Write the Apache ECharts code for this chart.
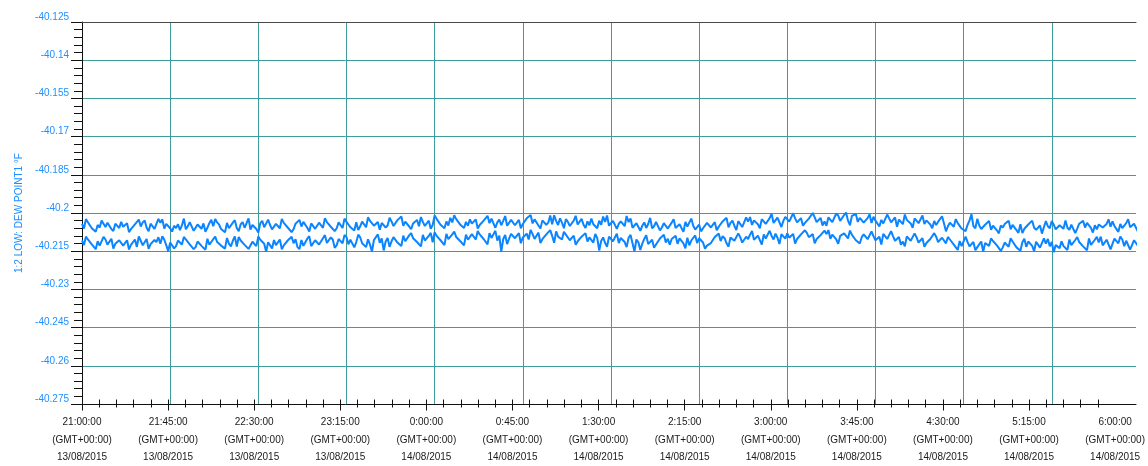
<!DOCTYPE html>
<html>
<head>
<meta charset="utf-8">
<script src="https://cdn.jsdelivr.net/npm/echarts@6/dist/echarts.min.js"></script>
<style>
html,body{margin:0;padding:0;background:#fff;}
#chart{width:1148px;height:466px;}
</style>
</head>
<body>
<div id="chart"></div>
<script>
// ---- data ----
const sampleStepMinutes = 1; // minutes after 21:00:00 between samples
const upperSeries = [
-40.2043,-40.2061,-40.2024,-40.2036,-40.2039,-40.2060,-40.2062,-40.2074,-40.2047,-40.2057,-40.2030,-40.2027,-40.2055,-40.2038,-40.2041,-40.2063,-40.2071,-40.2042,-40.2046,-40.2059,
-40.2035,-40.2054,-40.2057,-40.2040,-40.2075,-40.2063,-40.2066,-40.2045,-40.2040,-40.2026,-40.2053,-40.2037,-40.2029,-40.2058,-40.2072,-40.2042,-40.2044,-40.2062,-40.2056,-40.2023,
-40.2038,-40.2025,-40.2061,-40.2043,-40.2048,-40.2060,-40.2073,-40.2050,-40.2059,-40.2044,-40.2067,-40.2049,-40.2022,-40.2064,-40.2052,-40.2036,-40.2037,-40.2070,-40.2063,-40.2045,
-40.2049,-40.2062,-40.2041,-40.2074,-40.2058,-40.2040,-40.2027,-40.2052,-40.2024,-40.2037,-40.2046,-40.2063,-40.2062,-40.2076,-40.2039,-40.2060,-40.2057,-40.2038,-40.2028,-40.2059,
-40.2072,-40.2044,-40.2036,-40.2058,-40.2051,-40.2021,-40.2065,-40.2047,-40.2042,-40.2063,-40.2077,-40.2040,-40.2031,-40.2056,-40.2058,-40.2026,-40.2047,-40.2064,-40.2061,-40.2043,
-40.2040,-40.2060,-40.2023,-40.2039,-40.2034,-40.2057,-40.2050,-40.2075,-40.2063,-40.2042,-40.2044,-40.2027,-40.2053,-40.2035,-40.2038,-40.2058,-40.2073,-40.2041,-40.2048,-40.2062,
-40.2055,-40.2038,-40.2039,-40.2058,-40.2020,-40.2036,-40.2031,-40.2054,-40.2049,-40.2071,-40.2060,-40.2037,-40.2042,-40.2059,-40.2022,-40.2035,-40.2034,-40.2056,-40.2050,-40.2069,
-40.2036,-40.2067,-40.2052,-40.2034,-40.2040,-40.2056,-40.2017,-40.2031,-40.2027,-40.2050,-40.2046,-40.2035,-40.2066,-40.2039,-40.2038,-40.2057,-40.2049,-40.2019,-40.2033,-40.2051,
-40.2045,-40.2028,-40.2031,-40.2014,-40.2050,-40.2034,-40.2037,-40.2053,-40.2064,-40.2041,-40.2043,-40.2027,-40.2052,-40.2016,-40.2035,-40.2051,-40.2046,-40.2030,-40.2062,-40.2047,
-40.2010,-40.2023,-40.2026,-40.2046,-40.2044,-40.2060,-40.2033,-40.2049,-40.2019,-40.2037,-40.2009,-40.2024,-40.2030,-40.2045,-40.2047,-40.2059,-40.2035,-40.2050,-40.2025,-40.2042,
-40.2042,-40.2025,-40.2061,-40.2047,-40.2046,-40.2030,-40.2034,-40.2011,-40.2040,-40.2022,-40.2018,-40.2058,-40.2037,-40.2026,-40.2048,-40.2031,-40.2012,-40.2050,-40.2043,-40.2027,
-40.2032,-40.2048,-40.2045,-40.2027,-40.2060,-40.2043,-40.2039,-40.2021,-40.2016,-40.2008,-40.2041,-40.2025,-40.2030,-40.2049,-40.2061,-40.2029,-40.2027,-40.2046,-40.2038,-40.2010,
-40.2044,-40.2009,-40.2031,-40.2047,-40.2021,-40.2038,-40.2060,-40.2024,-40.2035,-40.2051,-40.2049,-40.2030,-40.2011,-40.2045,-40.2039,-40.2023,-40.2046,-40.2059,-40.2033,-40.2048,
-40.2022,-40.2044,-40.2041,-40.2060,-40.2030,-40.2046,-40.2014,-40.2035,-40.2010,-40.2050,-40.2047,-40.2031,-40.2028,-40.2062,-40.2043,-40.2033,-40.2034,-40.2052,-40.2012,-40.2036,
-40.2021,-40.2058,-40.2054,-40.2040,-40.2036,-40.2070,-40.2050,-40.2037,-40.2059,-40.2043,-40.2019,-40.2060,-40.2052,-40.2035,-40.2033,-40.2068,-40.2057,-40.2040,-40.2045,-40.2061,
-40.2056,-40.2038,-40.2024,-40.2059,-40.2061,-40.2044,-40.2047,-40.2074,-40.2035,-40.2053,-40.2058,-40.2022,-40.2050,-40.2065,-40.2064,-40.2046,-40.2072,-40.2060,-40.2055,-40.2039,
-40.2038,-40.2057,-40.2053,-40.2036,-40.2068,-40.2054,-40.2049,-40.2033,-40.2040,-40.2019,-40.2056,-40.2039,-40.2030,-40.2050,-40.2067,-40.2032,-40.2037,-40.2055,-40.2051,-40.2017,
-40.2034,-40.2016,-40.2047,-40.2029,-40.2030,-40.2044,-40.2060,-40.2024,-40.2026,-40.2043,-40.2038,-40.2020,-40.2003,-40.2039,-40.2035,-40.2018,-40.2019,-40.2055,-40.2031,-40.2015,
-40.2016,-40.2034,-40.2032,-40.2001,-40.2021,-40.2037,-40.2035,-40.2020,-40.2050,-40.2039,-40.2038,-40.2022,-40.2027,-40.2000,-40.2017,-40.2036,-40.2034,-40.2019,-40.2049,-40.2033,
-40.2050,-40.2017,-40.2020,-40.2036,-40.2037,-40.2002,-40.2010,-40.2031,-40.2029,-40.2008,-40.1998,-40.2030,-40.2048,-40.2011,-40.2014,-40.2004,-40.2035,-40.2019,-40.2022,-40.2038,
-40.2036,-40.2020,-40.2005,-40.2039,-40.2015,-40.2030,-40.2034,-40.2053,-40.2027,-40.2041,-40.2040,-40.2006,-40.2021,-40.2037,-40.2031,-40.2017,-40.2054,-40.2026,-40.2029,-40.2044,
-40.2006,-40.2027,-40.2030,-40.2041,-40.2058,-40.2021,-40.2023,-40.2040,-40.2035,-40.2010,-40.2043,-40.2029,-40.2028,-40.2045,-40.2060,-40.2031,-40.2047,-40.2034,-40.2033,-40.2013,
-40.2041,-40.2072,-40.2052,-40.2038,-40.2036,-40.2054,-40.2024,-40.2040,-40.2044,-40.2061,-40.2058,-40.2071,-40.2047,-40.2030,-40.2005,-40.2051,-40.2060,-40.2023,-40.2049,-40.2063,
-40.2062,-40.2046,-40.2048,-40.2031,-40.2066,-40.2050,-40.2052,-40.2068,-40.2080,-40.2049,-40.2057,-40.2043,-40.2045,-40.2030,-40.2064,-40.2047,-40.2051,-40.2067,-40.2078,-40.2044,
-40.2079,-40.2062,-40.2063,-40.2045,-40.2043,-40.2030,-40.2058,-40.2066,-40.2068,-40.2049,-40.2081,-40.2055,-40.2032,-40.2052,-40.2060,-40.2031,-40.2046,-40.2064,-40.2065,-40.2048,
-40.2054,-40.2062,-40.2029,-40.2058,-40.2066,-40.2046,-40.2049,-40.2079,-40.2061,-40.2042,-40.2044,-40.2031,-40.2057,-40.2039,-40.2036,-40.2058,-40.2077,-40.2048,-40.2064,-40.2045,
-40.2045,-40.2057,-40.2060,-40.2043,-40.2025,-40.2054,-40.2033,-40.2051,-40.2058,-40.2074,-40.2043,-40.2059,-40.2055,-40.2040,-40.2024,-40.2056,-40.2059,-40.2042,-40.2047,-40.2073
];
const lowerSeries = [
-40.2108,-40.2126,-40.2093,-40.2104,-40.2102,-40.2123,-40.2127,-40.2142,-40.2111,-40.2128,-40.2131,-40.2094,-40.2104,-40.2124,-40.2119,-40.2101,-40.2140,-40.2121,-40.2125,-40.2107,
-40.2112,-40.2128,-40.2129,-40.2107,-40.2143,-40.2125,-40.2120,-40.2104,-40.2133,-40.2092,-40.2109,-40.2127,-40.2124,-40.2102,-40.2141,-40.2122,-40.2128,-40.2106,-40.2114,-40.2095,
-40.2121,-40.2091,-40.2105,-40.2126,-40.2150,-40.2116,-40.2113,-40.2139,-40.2130,-40.2108,-40.2107,-40.2124,-40.2094,-40.2104,-40.2100,-40.2123,-40.2118,-40.2142,-40.2134,-40.2112,
-40.2110,-40.2129,-40.2127,-40.2144,-40.2101,-40.2124,-40.2119,-40.2103,-40.2093,-40.2114,-40.2108,-40.2128,-40.2124,-40.2140,-40.2098,-40.2120,-40.2131,-40.2109,-40.2092,-40.2132,
-40.2094,-40.2108,-40.2104,-40.2125,-40.2120,-40.2141,-40.2136,-40.2113,-40.2111,-40.2130,-40.2092,-40.2105,-40.2100,-40.2121,-40.2152,-40.2115,-40.2117,-40.2139,-40.2106,-40.2126,
-40.2125,-40.2104,-40.2143,-40.2127,-40.2131,-40.2108,-40.2102,-40.2093,-40.2119,-40.2103,-40.2134,-40.2142,-40.2106,-40.2129,-40.2123,-40.2101,-40.2091,-40.2130,-40.2128,-40.2107,
-40.2103,-40.2124,-40.2121,-40.2099,-40.2087,-40.2118,-40.2115,-40.2096,-40.2104,-40.2137,-40.2126,-40.2102,-40.2095,-40.2119,-40.2086,-40.2094,-40.2123,-40.2105,-40.2100,-40.2135,
-40.2114,-40.2085,-40.2096,-40.2119,-40.2120,-40.2134,-40.2103,-40.2124,-40.2152,-40.2106,-40.2099,-40.2084,-40.2117,-40.2100,-40.2147,-40.2112,-40.2098,-40.2133,-40.2111,-40.2095,
-40.2094,-40.2116,-40.2113,-40.2130,-40.2089,-40.2111,-40.2107,-40.2088,-40.2079,-40.2099,-40.2092,-40.2114,-40.2109,-40.2131,-40.2086,-40.2108,-40.2105,-40.2090,-40.2078,-40.2115,
-40.2075,-40.2090,-40.2088,-40.2107,-40.2104,-40.2126,-40.2082,-40.2103,-40.2100,-40.2084,-40.2073,-40.2094,-40.2091,-40.2110,-40.2106,-40.2127,-40.2085,-40.2105,-40.2102,-40.2083,
-40.2087,-40.2104,-40.2071,-40.2084,-40.2083,-40.2102,-40.2099,-40.2123,-40.2079,-40.2098,-40.2097,-40.2070,-40.2108,-40.2089,-40.2152,-40.2103,-40.2086,-40.2122,-40.2101,-40.2082,
-40.2080,-40.2099,-40.2097,-40.2079,-40.2119,-40.2096,-40.2094,-40.2081,-40.2104,-40.2066,-40.2083,-40.2102,-40.2098,-40.2077,-40.2118,-40.2103,-40.2101,-40.2084,-40.2078,-40.2067,
-40.2090,-40.2117,-40.2072,-40.2093,-40.2088,-40.2104,-40.2074,-40.2085,-40.2084,-40.2107,-40.2106,-40.2089,-40.2125,-40.2111,-40.2109,-40.2093,-40.2095,-40.2079,-40.2112,-40.2096,
-40.2097,-40.2116,-40.2082,-40.2099,-40.2147,-40.2110,-40.2096,-40.2117,-40.2133,-40.2093,-40.2090,-40.2111,-40.2108,-40.2081,-40.2118,-40.2098,-40.2094,-40.2114,-40.2134,-40.2097,
-40.2086,-40.2119,-40.2151,-40.2104,-40.2115,-40.2145,-40.2120,-40.2102,-40.2087,-40.2122,-40.2120,-40.2105,-40.2136,-40.2124,-40.2123,-40.2100,-40.2099,-40.2085,-40.2116,-40.2101,
-40.2124,-40.2102,-40.2104,-40.2089,-40.2121,-40.2100,-40.2098,-40.2119,-40.2139,-40.2097,-40.2127,-40.2108,-40.2101,-40.2088,-40.2118,-40.2099,-40.2095,-40.2116,-40.2140,-40.2128,
-40.2131,-40.2118,-40.2115,-40.2094,-40.2092,-40.2081,-40.2110,-40.2091,-40.2099,-40.2119,-40.2132,-40.2096,-40.2089,-40.2109,-40.2106,-40.2080,-40.2095,-40.2116,-40.2113,-40.2093,
-40.2102,-40.2085,-40.2071,-40.2105,-40.2107,-40.2089,-40.2093,-40.2124,-40.2084,-40.2100,-40.2103,-40.2070,-40.2090,-40.2104,-40.2081,-40.2097,-40.2122,-40.2083,-40.2087,-40.2101,
-40.2080,-40.2097,-40.2098,-40.2082,-40.2120,-40.2102,-40.2103,-40.2084,-40.2089,-40.2068,-40.2078,-40.2095,-40.2100,-40.2083,-40.2119,-40.2102,-40.2104,-40.2087,-40.2092,-40.2069,
-40.2083,-40.2067,-40.2101,-40.2085,-40.2088,-40.2104,-40.2121,-40.2090,-40.2093,-40.2080,-40.2081,-40.2100,-40.2069,-40.2086,-40.2089,-40.2107,-40.2105,-40.2120,-40.2095,-40.2084,
-40.2086,-40.2103,-40.2104,-40.2072,-40.2091,-40.2107,-40.2108,-40.2093,-40.2124,-40.2082,-40.2083,-40.2102,-40.2106,-40.2071,-40.2092,-40.2109,-40.2110,-40.2094,-40.2125,-40.2112,
-40.2131,-40.2092,-40.2090,-40.2109,-40.2111,-40.2080,-40.2096,-40.2116,-40.2115,-40.2099,-40.2133,-40.2118,-40.2119,-40.2102,-40.2104,-40.2079,-40.2093,-40.2114,-40.2113,-40.2097,
-40.2100,-40.2119,-40.2094,-40.2104,-40.2106,-40.2124,-40.2125,-40.2145,-40.2110,-40.2130,-40.2129,-40.2093,-40.2113,-40.2131,-40.2132,-40.2114,-40.2146,-40.2134,-40.2128,-40.2112,
-40.2152,-40.2118,-40.2111,-40.2129,-40.2100,-40.2110,-40.2108,-40.2127,-40.2125,-40.2149,-40.2135,-40.2116,-40.2113,-40.2133,-40.2099,-40.2112,-40.2117,-40.2135,-40.2136,-40.2148,
-40.2115,-40.2101,-40.2133,-40.2112,-40.2110,-40.2129,-40.2150,-40.2113,-40.2118,-40.2136,-40.2137,-40.2100,-40.2120,-40.2102,-40.2131,-40.2114,-40.2154,-40.2126,-40.2122,-40.2138,
-40.2111,-40.2130,-40.2129,-40.2145,-40.2104,-40.2126,-40.2124,-40.2106,-40.2095,-40.2114,-40.2109,-40.2131,-40.2127,-40.2146,-40.2100,-40.2125,-40.2122,-40.2105,-40.2094,-40.2116,
-40.2093,-40.2127,-40.2126,-40.2105,-40.2103,-40.2143,-40.2121,-40.2101,-40.2098,-40.2119,-40.2092,-40.2104,-40.2130,-40.2109,-40.2106,-40.2144,-40.2125,-40.2107,-40.2113,-40.2129
];
const xTickTimes = ['21:00:00','21:45:00','22:30:00','23:15:00','0:00:00','0:45:00','1:30:00','2:15:00','3:00:00','3:45:00','4:30:00','5:15:00','6:00:00'];
const xTickZone = '(GMT+00:00)';
const xTickDates = ['13/08/2015','13/08/2015','13/08/2015','13/08/2015','14/08/2015','14/08/2015','14/08/2015','14/08/2015','14/08/2015','14/08/2015','14/08/2015','14/08/2015','14/08/2015'];
const yTickLabels = ['-40.275','-40.26','-40.245','-40.23','-40.215','-40.2','-40.185','-40.17','-40.155','-40.14','-40.125'];
const yAxisName = '1:2 LOW: DEW POINT1 \u00b0F';
const xTickStep = 45;      // minutes
const xLabelEnd = 540;     // 6:00:00
const xDataEnd = 538;      // visible end of the plot
const yMin = -40.275, yMax = -40.125, yStep = 0.015;

// ---- chart ----
const toPairs = arr => arr.map((v, i) => [i * sampleStepMinutes, v]);
const tickVals = [];
for (let m = 0; m < xDataEnd; m += xTickStep) tickVals.push(m);

const gridColor = '#3f9c9c';
const blue = '#1e8fff';
const font = "'Liberation Sans', Arial, sans-serif";

const chart = echarts.init(document.getElementById('chart'), null, {renderer: 'canvas'});
chart.setOption({
  animation: false,
  backgroundColor: '#ffffff',
  textStyle: {fontFamily: font},
  grid: [
    {left: 82, top: 22, right: 12, bottom: 62, containLabel: false},
    {left: 82, top: 22, right: 8, bottom: 62, containLabel: false}
  ],
  xAxis: [
    {
      type: 'value', gridIndex: 0, min: 0, max: xDataEnd, interval: xTickStep,
      axisLine: {show: true, onZero: false, lineStyle: {color: '#111', width: 1}},
      axisTick: {show: false},
      axisLabel: {show: false},
      splitLine: {show: true, showMinLine: false, showMaxLine: false, lineStyle: {color: gridColor, width: 1}}
    },
    {
      type: 'value', gridIndex: 1, min: 0, max: xLabelEnd, interval: xTickStep,
      axisLine: {show: false, onZero: false},
      axisTick: {show: true, length: 11, lineStyle: {color: '#111'}, customValues: tickVals},
      minorTick: {show: true, splitNumber: 5, length: 8, lineStyle: {color: '#111'}},
      splitLine: {show: false},
      axisLabel: {
        show: true, showMinLabel: true, showMaxLabel: true, hideOverlap: false,
        margin: 14, fontSize: 10, lineHeight: 17.5, color: '#1a1a1a', fontFamily: font,
        formatter: v => {
          const i = Math.round(v / xTickStep);
          return xTickTimes[i] + '\n' + xTickZone + '\n' + xTickDates[i];
        }
      }
    },
    {
      type: 'value', gridIndex: 0, position: 'top', min: 0, max: xDataEnd,
      axisLine: {show: true, onZero: false, lineStyle: {color: '#4a4a4a', width: 1}},
      axisTick: {show: false}, axisLabel: {show: false}, splitLine: {show: false}
    }
  ],
  yAxis: [
    {
      type: 'value', gridIndex: 0, min: yMin, max: yMax, interval: yStep,
      name: yAxisName, nameLocation: 'middle', nameGap: 58, nameRotate: 90,
      nameTextStyle: {color: blue, fontSize: 10, fontFamily: font},
      axisLine: {show: true, onZero: false, lineStyle: {color: '#111', width: 1}},
      axisTick: {show: true, length: 11, lineStyle: {color: '#111'}},
      minorTick: {show: true, splitNumber: 5, length: 8, lineStyle: {color: '#111'}},
      axisLabel: {
        show: true, margin: 13, fontSize: 10, color: blue, verticalAlign: 'bottom', fontFamily: font,
        showMinLabel: true, showMaxLabel: true,
        formatter: v => yTickLabels[Math.round((v - yMin) / yStep)]
      },
      splitLine: {show: true, showMinLine: false, showMaxLine: false, lineStyle: {color: gridColor, width: 1}}
    },
    {
      type: 'value', gridIndex: 1, min: yMin, max: yMax, show: false
    }
  ],
  series: [
    {
      type: 'line', xAxisIndex: 0, yAxisIndex: 0, data: toPairs(upperSeries),
      showSymbol: false, symbol: 'none', lineStyle: {color: '#0a84ff', width: 2}, clip: true
    },
    {
      type: 'line', xAxisIndex: 0, yAxisIndex: 0, data: toPairs(lowerSeries),
      showSymbol: false, symbol: 'none', lineStyle: {color: '#0a84ff', width: 2}, clip: true
    }
  ]
});
</script>
</body>
</html>
